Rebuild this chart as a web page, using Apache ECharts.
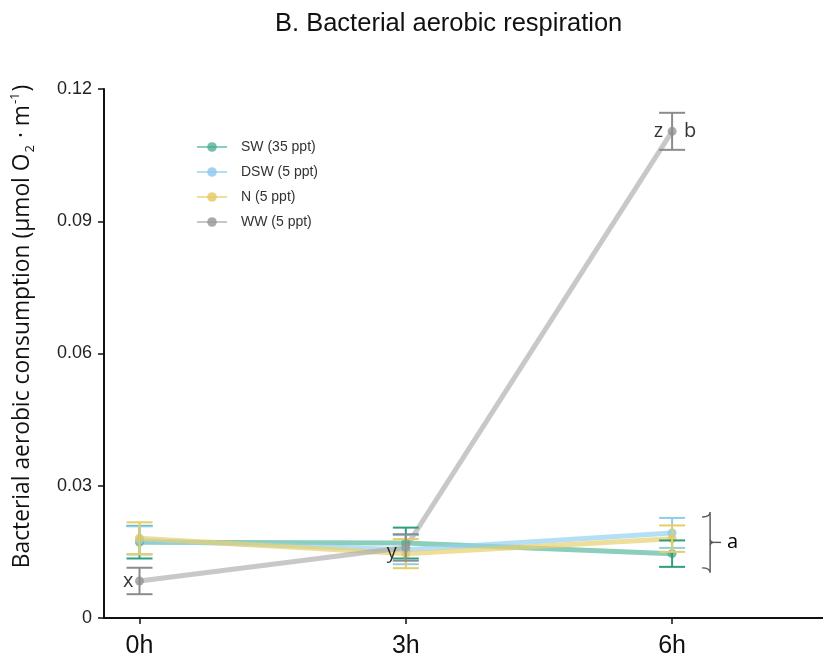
<!DOCTYPE html>
<html>
<head>
<meta charset="utf-8">
<script src="https://cdn.jsdelivr.net/npm/echarts@6/dist/echarts.min.js"></script>
<style>
  html, body { margin: 0; padding: 0; background: #fff; }
  #main { width: 823px; height: 662px; }
</style>
</head>
<body>
<div id="main"></div>
<script>
// data
const hours = [0, 3, 6];
const tickLabels = ['0h', '3h', '6h'];

const swMean = [0.0172, 0.0170, 0.0146];
const swErr = [0.0037, 0.0035, 0.0030];
const dswMean = [0.0176, 0.0155, 0.0193];
const dswErr = [0.0032, 0.0033, 0.0034];
const nMean = [0.0181, 0.0146, 0.0180];
const nErr = [0.0036, 0.0033, 0.0030];
const wwMean = [0.0084, 0.0160, 0.1104];
const wwErr = [0.0030, 0.0030, 0.0042];

const groupNames = ['SW (35 ppt)', 'DSW (5 ppt)', 'N (5 ppt)', 'WW (5 ppt)'];

// letters of the significance groups
const letterMarks = [
  { t: 0, v: wwMean[0], text: 'x', side: 'left' },
  { t: 3, v: wwMean[1], text: 'y', side: 'left' },
  { t: 6, v: wwMean[2], text: 'z', side: 'left' },
  { t: 6, v: wwMean[2], text: 'b', side: 'right' }
];
// label placement tweaks per letter
const letterStyle = {
  x: { distance: 6, offset: [0, 0] },
  y: { distance: 9, offset: [0, 5] },
  z: { distance: 9, offset: [0, 0] },
  b: { distance: 12, offset: [0, 0] }
};

const groups = [
  { name: groupNames[0], mean: swMean, err: swErr, line: 'rgba(77,180,152,0.65)', dot: 'rgba(70,170,140,0.75)', bar: '#2f9e80' },
  { name: groupNames[1], mean: dswMean, err: dswErr, line: 'rgba(150,210,240,0.7)', dot: 'rgba(140,200,235,0.8)', bar: '#8fcdec' },
  { name: groupNames[2], mean: nMean, err: nErr, line: 'rgba(232,208,110,0.7)', dot: 'rgba(228,200,100,0.8)', bar: '#e6cd64' },
  { name: groupNames[3], mean: wwMean, err: wwErr, line: 'rgba(170,170,170,0.65)', dot: 'rgba(150,150,150,0.8)', bar: '#8c8c8c' }
];

function errorBarRender(color) {
  return function (params, api) {
    const x = api.value(0);
    const top = api.coord([x, api.value(2)]);
    const bot = api.coord([x, api.value(1)]);
    const hw = 13;
    const st = { stroke: color, lineWidth: 2 };
    return {
      type: 'group',
      children: [
        { type: 'line', shape: { x1: top[0], y1: top[1], x2: bot[0], y2: bot[1] }, style: st },
        { type: 'line', shape: { x1: top[0] - hw, y1: top[1], x2: top[0] + hw, y2: top[1] }, style: st },
        { type: 'line', shape: { x1: bot[0] - hw, y1: bot[1], x2: bot[0] + hw, y2: bot[1] }, style: st }
      ]
    };
  };
}

const series = [];

groups.forEach(function (g) {
  series.push({
    name: g.name,
    type: 'line',
    data: hours.map(function (h, i) { return [h, g.mean[i]]; }),
    symbol: 'circle',
    symbolSize: 9,
    lineStyle: { color: g.line, width: 5 },
    itemStyle: { color: g.dot },
    z: 2
  });
});

groups.forEach(function (g) {
  series.push({
    name: g.name + ' err',
    type: 'custom',
    renderItem: errorBarRender(g.bar),
    encode: { x: 0, y: [1, 2] },
    data: hours.map(function (h, i) { return [h, g.mean[i] - g.err[i], g.mean[i] + g.err[i]]; }),
    z: 3
  });
});

// letters
series.push({
  name: 'letters',
  type: 'scatter',
  symbolSize: 0,
  data: letterMarks.map(function (m) {
    const s = letterStyle[m.text];
    return {
      value: [m.t, m.v],
      label: { show: true, position: m.side, formatter: m.text, distance: s.distance, offset: s.offset }
    };
  }),
  label: { color: '#000', fontSize: 20, fontFamily: 'Open Sans' },
  silent: true,
  z: 4
});

// brace "a" around the three low groups at 6h
series.push({
  name: 'brace',
  type: 'custom',
  silent: true,
  encode: { x: 0, y: [1, 2] },
  data: [[6, dswMean[2] + dswErr[2], swMean[2] - swErr[2]]],
  renderItem: function (params, api) {
    const top = api.coord([api.value(0), api.value(2)]);
    const bot = api.coord([api.value(0), api.value(1)]);
    const x0 = top[0] + 30;
    const x1 = x0 + 8;
    const mid = (top[1] + bot[1]) / 2;
    const t = top[1] + 1, b = bot[1] - 1;
    return {
      type: 'group',
      children: [
        {
          type: 'path',
          shape: {
            pathData: 'M' + x0 + ' ' + t + ' Q' + x1 + ' ' + t + ' ' + x1 + ' ' + (t + 5) +
              ' L' + x1 + ' ' + (mid - 4) + ' Q' + x1 + ' ' + mid + ' ' + (x1 + 4) + ' ' + mid +
              ' Q' + x1 + ' ' + mid + ' ' + x1 + ' ' + (mid + 4) +
              ' L' + x1 + ' ' + (b - 5) + ' Q' + x1 + ' ' + b + ' ' + x0 + ' ' + b
          },
          style: { stroke: '#555', lineWidth: 1.4, fill: null }
        },
        { type: 'line', shape: { x1: x1 + 4, y1: mid, x2: x1 + 11, y2: mid }, style: { stroke: '#555', lineWidth: 1.4 } },
        {
          type: 'text',
          style: { text: 'a', x: x1 + 17, y: mid, fontSize: 20, fontFamily: 'Open Sans', fill: '#000', verticalAlign: 'middle' }
        }
      ]
    };
  },
  z: 4
});

const chart = echarts.init(document.getElementById('main'));
chart.setOption({
  backgroundColor: '#fff',
  animation: false,
  title: {
    text: 'B. Bacterial aerobic respiration',
    left: 270,
    top: 6,
    textStyle: { fontSize: 25.5, fontWeight: 'normal', color: '#111', fontFamily: 'Liberation Sans' }
  },
  legend: {
    data: groupNames,
    orient: 'vertical',
    left: 191,
    top: 135,
    itemWidth: 30,
    itemHeight: 12,
    itemGap: 11,
    textStyle: { fontSize: 14, color: '#333', fontFamily: 'Liberation Sans', padding: [0, 0, 0, 9] }
  },
  grid: { left: 104, right: 0, top: 89, bottom: 44, outerBoundsMode: 'none' },
  xAxis: {
    type: 'value',
    min: -0.4,
    max: 7.7,
    splitLine: { show: false },
    axisLine: { onZero: false, lineStyle: { color: '#111', width: 2 } },
    axisTick: { customValues: hours, length: 6, lineStyle: { color: '#111', width: 1.5 } },
    axisLabel: {
      customValues: hours,
      formatter: function (v) { return tickLabels[hours.indexOf(v)]; },
      fontSize: 25,
      color: '#111',
      margin: 16,
      fontFamily: 'Liberation Sans'
    }
  },
  yAxis: {
    type: 'value',
    min: 0,
    max: 0.12,
    interval: 0.03,
    splitLine: { show: false },
    axisLine: { show: true, onZero: false, lineStyle: { color: '#111', width: 2 } },
    axisTick: { show: true, length: 6, lineStyle: { color: '#111', width: 1.5 } },
    axisLabel: {
      fontSize: 18,
      color: '#222',
      margin: 12,
      fontFamily: 'Liberation Sans',
      formatter: function (v) { return v === 0 ? '0' : v.toFixed(2); }
    },
    name: '{t|Bacterial aerobic consumption (μmol O}{sub|2}{t| · m}{sup|-1}{t|)}',
    nameLocation: 'middle',
    nameRotate: 90,
    nameGap: 67,
    nameTextStyle: {
      padding: [0, 0, 0, 54],
      rich: {
        t: { fontSize: 22.8, color: '#111', fontFamily: 'Open Sans', lineHeight: 28, verticalAlign: 'middle' },
        sub: { fontSize: 13, color: '#111', fontFamily: 'Open Sans', verticalAlign: 'bottom', lineHeight: 28, padding: [0, 1, 0, 1] },
        sup: { fontSize: 13, color: '#111', fontFamily: 'Open Sans', verticalAlign: 'top', lineHeight: 28, padding: [0, 1, 0, 1] }
      }
    }
  },
  series: series
});
</script>
</body>
</html>
